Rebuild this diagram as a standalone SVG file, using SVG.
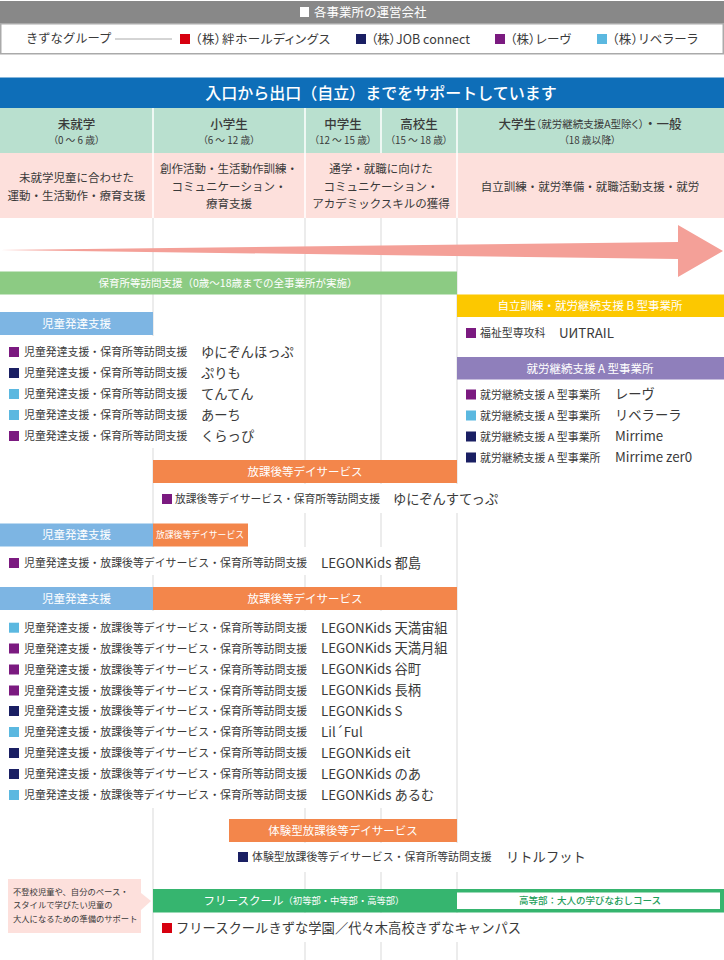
<svg xmlns="http://www.w3.org/2000/svg" width="724" height="960" viewBox="0 0 724 960">
<style>
text{font-family:"Noto Sans CJK JP","Noto Sans",sans-serif;fill:#3a3a3a;dominant-baseline:central;transform:translate(0,-.6px)}
.c{text-anchor:middle}
.w{fill:#fff}
.h{font-size:12.5px}
.a{font-size:9.8px;font-feature-settings:"palt";font-weight:400}
.l{font-size:12.5px;font-feature-settings:"palt"}
.p{font-size:11.5px}
.b{font-size:11.5px;fill:#fff;text-anchor:middle}
.t{font-size:10.9px}
.n{font-size:13.3px}
.o{font-size:8.3px}
.m{font-weight:500}
.g{stroke:#e6e6e6;stroke-width:1.5;fill:none}
.s{stroke:#fff;stroke-width:1.5}
.pu{fill:#7b1a80}.na{fill:#1a1f63}.lb{fill:#5bb8e0}.re{fill:#d7000f}
.kid{fill:#7db5e3}.or{fill:#f3864b}
</style>
<defs>
<rect id="sq" width="10" height="10"/>
</defs>
<rect width="724" height="960" fill="#fff"/>
<g id="grid-lines" class="g">
<path d="M153 218V960M305 218V960M381 218V960M457 218V960"/>
</g>
<g id="text-backing" fill="#fff">
<rect x="0" y="336" width="300" height="112"/>
<rect x="155" y="484" width="345" height="29"/>
<rect x="0" y="547" width="425" height="28"/>
<rect x="0" y="611" width="451" height="197"/>
<rect x="235" y="843" width="355" height="29"/>
<rect x="155" y="913" width="370" height="29"/>
</g>
<g id="legend">
<rect x="0" y="1" width="724" height="22" fill="#888"/>
<rect x="300" y="7" width="9" height="10" fill="#fff"/>
<text x="314" y="12" class="h w">各事業所の運営会社</text>
<rect x="0.75" y="23.75" width="722.5" height="30" fill="#fff" stroke="#aaa" stroke-width="1.5"/>
<text x="26" y="39" style="font-size:12.3px">きずなグループ</text>
<path d="M115 39H172" stroke="#aaa" stroke-width="1"/>
<use href="#sq" x="180" y="34" class="re"/><text x="195" y="39" class="l" textLength="135">（株）絆ホールディングス</text>
<use href="#sq" x="356" y="34" class="na"/><text x="371" y="39" class="l" textLength="99">（株）JOB connect</text>
<use href="#sq" x="495" y="34" class="pu"/><text x="510" y="39" class="l" textLength="61">（株）レーヴ</text>
<use href="#sq" x="597" y="34" class="lb"/><text x="612" y="39" class="l" textLength="86">（株）リベラーラ</text>
</g>
<g id="title">
<rect x="0" y="77.5" width="724" height="30.5" fill="#0e6eb8"/>
<text x="381" y="93" class="c w" font-size="16" font-weight="500">入口から出口（自立）までをサポートしています</text>
</g>
<g id="age-header">
<rect x="0" y="108" width="724" height="45" fill="#b9e0cf"/>
<path d="M153 108V153M305 108V153M381 108V153M457 108V153" class="s"/>
<text x="76.5" y="124" class="c h m">未就学</text><text x="76.5" y="141" class="c a">（0 ～ 6 歳）</text>
<text x="229" y="124" class="c h m">小学生</text><text x="229" y="141" class="c a">（6 ～ 12 歳）</text>
<text x="343" y="124" class="c h m">中学生</text><text x="343" y="141" class="c a">（12 ～ 15 歳）</text>
<text x="419" y="124" class="c h m">高校生</text><text x="419" y="141" class="c a">（15 ～ 18 歳）</text>
<text x="590" y="124" class="c h m">大学生<tspan class="a" style="font-size:10.5px">（就労継続支援A型除く）</tspan>・一般</text><text x="590" y="141" class="c a">（18 歳以降）</text>
</g>
<g id="support-row">
<rect x="0" y="153" width="724" height="65" fill="#fde0dc"/>
<path d="M153 153V218M305 153V218M457 153V218" class="s"/>
<text x="76.5" y="178" class="c p">未就学児童に合わせた</text><text x="76.5" y="195.5" class="c p">運動・生活動作・療育支援</text>
<text x="229" y="169" class="c p">創作活動・生活動作訓練・</text><text x="229" y="186.5" class="c p">コミュニケーション・</text><text x="229" y="203.5" class="c p">療育支援</text>
<text x="381" y="169" class="c p">通学・就職に向けた</text><text x="381" y="186.5" class="c p">コミュニケーション・</text><text x="381" y="203.5" class="c p">アカデミックスキルの獲得</text>
<text x="590" y="187" class="c p">自立訓練・就労準備・就職活動支援・就労</text>
</g>
<g id="arrow"><path d="M0 250L678 242V225L723 251L678 277V259Z" fill="#f4a098"/></g>
<g id="hoikusho"><rect x="0" y="271.5" width="457" height="23" fill="#8ccb83"/><text x="228" y="283" class="b" style="font-size:10.5px">保育所等訪問支援（0歳～18歳までの全事業所が実施）</text></g>
<g id="type-b">
<rect x="457" y="294.5" width="267" height="22.5" fill="#fcc800"/><text x="590" y="306" class="b">自立訓練・就労継続支援 B 型事業所</text>
<use href="#sq" x="466" y="328" class="pu"/><text x="480" y="333" class="t">福祉型専攻科</text><text x="559" y="333" class="n">UИTRAIL</text>
</g>
<g id="type-a">
<rect x="457" y="357" width="267" height="22.5" fill="#8f7fbb"/><text x="590" y="368.5" class="b">就労継続支援 A 型事業所</text>
<use href="#sq" x="466" y="389.5" class="pu"/><text x="480" y="394.5" class="t">就労継続支援 A 型事業所</text><text x="615" y="394.5" class="n">レーヴ</text>
<use href="#sq" x="466" y="410.5" class="lb"/><text x="480" y="415.5" class="t">就労継続支援 A 型事業所</text><text x="615" y="415.5" class="n">リベラーラ</text>
<use href="#sq" x="466" y="431.5" class="na"/><text x="480" y="436.5" class="t">就労継続支援 A 型事業所</text><text x="615" y="436.5" class="n">Mirrime</text>
<use href="#sq" x="466" y="452.5" class="na"/><text x="480" y="457.5" class="t">就労継続支援 A 型事業所</text><text x="615" y="457.5" class="n">Mirrime zer0</text>
</g>
<g id="kids-1">
<rect x="0" y="312" width="153" height="23" class="kid"/><text x="76.5" y="324" class="b">児童発達支援</text>
<use href="#sq" x="9" y="347" class="pu"/><text x="24" y="352" class="t">児童発達支援・保育所等訪問支援</text><text x="201" y="352" class="n">ゆにぞんほっぷ</text>
<use href="#sq" x="9" y="368" class="na"/><text x="24" y="373" class="t">児童発達支援・保育所等訪問支援</text><text x="201" y="373" class="n">ぷりも</text>
<use href="#sq" x="9" y="389" class="lb"/><text x="24" y="394" class="t">児童発達支援・保育所等訪問支援</text><text x="201" y="394" class="n">てんてん</text>
<use href="#sq" x="9" y="410" class="lb"/><text x="24" y="415" class="t">児童発達支援・保育所等訪問支援</text><text x="201" y="415" class="n">あーち</text>
<use href="#sq" x="9" y="431" class="pu"/><text x="24" y="436" class="t">児童発達支援・保育所等訪問支援</text><text x="201" y="436" class="n">くらっぴ</text>
</g>
<g id="after-school-1">
<rect x="153" y="460" width="304" height="23" class="or"/><text x="305" y="472" class="b">放課後等デイサービス</text>
<use href="#sq" x="162" y="494" class="pu"/><text x="175" y="499" class="t" style="font-size:10.8px">放課後等デイサービス・保育所等訪問支援</text><text x="393" y="499" class="n">ゆにぞんすてっぷ</text>
</g>
<g id="kids-2">
<rect x="0" y="523.5" width="153" height="23" class="kid"/><text x="76.5" y="535" class="b">児童発達支援</text>
<rect x="153" y="523.5" width="95" height="23" class="or"/><text x="200" y="535" class="b" style="font-size:8.8px">放課後等デイサービス</text>
<use href="#sq" x="9" y="558" class="pu"/><text x="24" y="563" class="t">児童発達支援・放課後等デイサービス・保育所等訪問支援</text><text x="321" y="563" class="n">LEGONKids 都島</text>
</g>
<g id="kids-3">
<rect x="0" y="587" width="153" height="23" class="kid"/><text x="76.5" y="598.5" class="b">児童発達支援</text>
<rect x="153" y="587" width="304" height="23" class="or"/><text x="305" y="598.5" class="b">放課後等デイサービス</text>
<use href="#sq" x="9" y="622.7" class="lb"/><text x="24" y="627.7" class="t">児童発達支援・放課後等デイサービス・保育所等訪問支援</text><text x="321" y="627.7" class="n">LEGONKids 天満宙組</text>
<use href="#sq" x="9" y="643.5" class="pu"/><text x="24" y="648.5" class="t">児童発達支援・放課後等デイサービス・保育所等訪問支援</text><text x="321" y="648.5" class="n">LEGONKids 天満月組</text>
<use href="#sq" x="9" y="664.5" class="pu"/><text x="24" y="669.5" class="t">児童発達支援・放課後等デイサービス・保育所等訪問支援</text><text x="321" y="669.5" class="n">LEGONKids 谷町</text>
<use href="#sq" x="9" y="685.5" class="pu"/><text x="24" y="690.5" class="t">児童発達支援・放課後等デイサービス・保育所等訪問支援</text><text x="321" y="690.5" class="n">LEGONKids 長柄</text>
<use href="#sq" x="9" y="706" class="na"/><text x="24" y="711" class="t">児童発達支援・放課後等デイサービス・保育所等訪問支援</text><text x="321" y="711" class="n">LEGONKids S</text>
<use href="#sq" x="9" y="727" class="lb"/><text x="24" y="732" class="t">児童発達支援・放課後等デイサービス・保育所等訪問支援</text><text x="321" y="732" class="n">Lil´Ful</text>
<use href="#sq" x="9" y="748" class="na"/><text x="24" y="753" class="t">児童発達支援・放課後等デイサービス・保育所等訪問支援</text><text x="321" y="753" class="n">LEGONKids eit</text>
<use href="#sq" x="9" y="769" class="na"/><text x="24" y="774" class="t">児童発達支援・放課後等デイサービス・保育所等訪問支援</text><text x="321" y="774" class="n">LEGONKids のあ</text>
<use href="#sq" x="9" y="790" class="lb"/><text x="24" y="795" class="t">児童発達支援・放課後等デイサービス・保育所等訪問支援</text><text x="321" y="795" class="n">LEGONKids あるむ</text>
</g>
<g id="trial">
<rect x="229" y="819" width="228" height="23" class="or"/><text x="343" y="830.5" class="b">体験型放課後等デイサービス</text>
<use href="#sq" x="238" y="852" class="na"/><text x="252" y="857" class="t">体験型放課後等デイサービス・保育所等訪問支援</text><text x="506" y="857" class="n">リトルフット</text>
</g>
<g id="free-note">
<path d="M8 879H141V893L151 901L141 910V933H8Z" fill="#fde0dc"/>
<text x="13" y="891.5" class="o">不登校児童や、自分のペース・</text>
<text x="13" y="905" class="o">スタイルで学びたい児童の</text>
<text x="13" y="918.5" class="o">大人になるための準備のサポート</text>
</g>
<g id="free-school">
<rect x="153" y="889" width="571" height="23.5" fill="#36b56f"/>
<rect x="457" y="892.5" width="263" height="16.5" fill="#fff"/>
<text x="304" y="901" class="b">フリースクール<tspan style="font-size:9.3px">（初等部・中等部・高等部）</tspan></text>
<text x="590" y="901" class="c" style="font-size:9.5px;fill:#1f9e5a" font-weight="500">高等部：大人の学びなおしコース</text>
<use href="#sq" x="162" y="923" class="re"/><text x="176" y="928" class="n">フリースクールきずな学園／代々木高校きずなキャンパス</text>
</g>
</svg>
